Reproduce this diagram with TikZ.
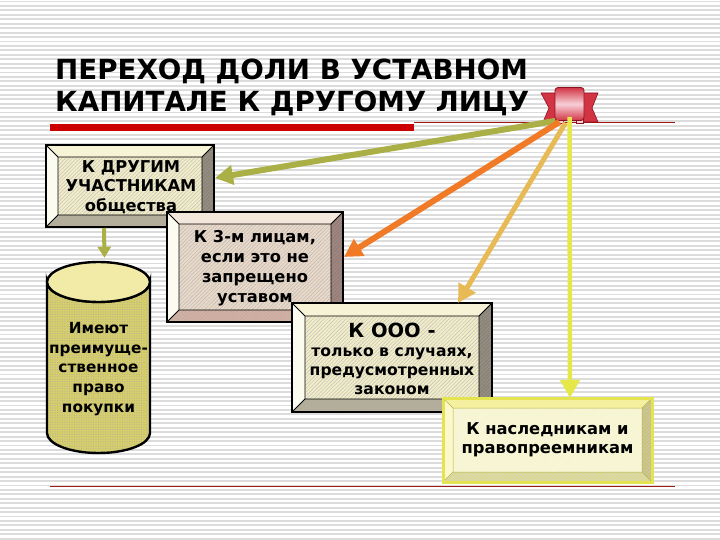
\documentclass[tikz,border=0pt]{standalone}
\usepackage{fontspec}
\setmainfont{DejaVu Sans}
\usetikzlibrary{arrows.meta,calc,patterns.meta}
\definecolor{stripegray}{HTML}{DCDCDC}
\definecolor{olivearrow}{HTML}{AAB046}
\definecolor{orangearrow}{HTML}{F07A26}
\definecolor{goldarrow}{HTML}{E8BA55}
\definecolor{yellowarrow}{HTML}{E6E84A}
\definecolor{titlered}{HTML}{CC0000}
\definecolor{linered}{HTML}{A01818}
\definecolor{ribred}{HTML}{D23444}
\definecolor{ribdark}{HTML}{8C1020}
\definecolor{ribpink}{HTML}{F8D0D8}
\definecolor{creamface}{HTML}{F2EDC6}
\definecolor{creamtop}{HTML}{F7F3D6}
\definecolor{creamleft}{HTML}{FCFBF0}
\definecolor{grayright}{HTML}{8C8474}
\definecolor{graybottom}{HTML}{B4AC94}
\definecolor{pinkface}{HTML}{EBD9C8}
\definecolor{pinktop}{HTML}{F3E6DA}
\definecolor{pinkright}{HTML}{9A7C74}
\definecolor{pinkbottom}{HTML}{D2AA9A}
\definecolor{yface}{HTML}{F8F6DC}
\definecolor{ytop}{HTML}{F4F0A0}
\definecolor{yleft}{HTML}{FAF8CC}
\definecolor{yright}{HTML}{C8C27A}
\definecolor{ybottom}{HTML}{DCD88E}
\definecolor{yborder}{HTML}{E4E450}
\definecolor{cylbody}{HTML}{D6CE6C}
\definecolor{cyltop}{HTML}{F2EBA8}
\tikzset{
  stripe/.style={draw=stripegray, line width=1.9pt},
  boxtext/.style={align=center, font=\fontsize{16.3}{19.5}\selectfont\bfseries, inner sep=0pt},
  titletext/.style={anchor=base west, inner sep=0pt, font=\fontsize{27.7}{32}\selectfont\bfseries},
  bigarrow/.style={line width=6pt, -{Triangle[length=18pt,width=19pt]}},
  smallarrow/.style={line width=4pt, -{Triangle[length=11pt,width=13pt]}},
  hatch/.style={pattern={Lines[angle=45,distance=2.6pt,line width=0.45pt]}, pattern color=#1},
  rib/.style={minimum width=29pt, minimum height=33pt, inner sep=0pt, rounded corners=3pt,
    draw=ribdark, line width=0.8pt, top color=ribred, bottom color=ribred, middle color=ribpink},
}
\newcommand{\bevelbox}[5]{%
  \node[minimum width=#3pt, minimum height=#4pt, inner sep=0pt, outer sep=0pt] (#1) at (#2) {};
  \coordinate (o1) at (#1.north west);
  \coordinate (o2) at (#1.north east);
  \coordinate (o3) at (#1.south east);
  \coordinate (o4) at (#1.south west);
  \coordinate (i1) at ($(o1)+(#5,#5)$);
  \coordinate (i2) at ($(o2)+(-#5,#5)$);
  \coordinate (i3) at ($(o3)+(-#5,-#5)$);
  \coordinate (i4) at ($(o4)+(#5,-#5)$);
  \fill[bvface] (o1) rectangle (o3);
  \fill[bvhatch] (o1) rectangle (o3);
  \fill[bvleft] (o1) -- (i1) -- (i4) -- (o4) -- cycle;
  \fill[bvtop] (o1) -- (o2) -- (i2) -- (i1) -- cycle;
  \fill[bvright] (o2) -- (o3) -- (i3) -- (i2) -- cycle;
  \fill[bvbottom] (o4) -- (i4) -- (i3) -- (o3) -- cycle;
  \draw[bvthin] (i1) rectangle (i3) (o1) -- (i1) (o2) -- (i2) (o3) -- (i3) (o4) -- (i4);
  \draw[bvouter] (o1) rectangle (o3);
}
\begin{document}
\begin{tikzpicture}[x=1pt,y=-1pt]
\useasboundingbox (0,0) rectangle (720,540);
\fill[white] (0,0) rectangle (720,540);
\foreach \k in {0,...,121} { \draw[stripe] (0,{1.5+\k*4.44}) -- (720,{1.5+\k*4.44}); }

% title
\node[titletext] (t1) at (55,80) {ПЕРЕХОД ДОЛИ В УСТАВНОМ};
\node[titletext] (t2) at (55,112) {КАПИТАЛЕ К ДРУГОМУ ЛИЦУ};
\fill[titlered] (50,124) rectangle (414,131);
\draw[linered, line width=1pt] (414,123) -- (675,123);
\draw[linered, line width=1pt] (50,486) -- (675,486);

% ribbon
\fill[ribred, draw=ribdark, line width=0.6pt] (541,93) -- (557,93) -- (557,122) -- (543,122) -- (549,108) -- cycle;
\fill[ribred, draw=ribdark, line width=0.6pt] (582,93) -- (598,93) -- (592,108) -- (598,122) -- (582,122) -- cycle;
\fill[ribpink, draw=ribdark, line width=0.5pt] (556,116) rectangle (563,123);
\fill[ribpink, draw=ribdark, line width=0.5pt] (576,116) rectangle (583,123);
\node[rib] (rib) at (569.5,104) {};

% box 1
\tikzset{bvface/.style={fill=creamface}, bvhatch/.style={hatch=gray!50},
  bvleft/.style={fill=creamleft}, bvtop/.style={fill=creamtop},
  bvright/.style={fill=grayright, postaction={hatch=black!40}},
  bvbottom/.style={fill=graybottom, postaction={hatch=black!30}},
  bvthin/.style={draw=black, line width=0.8pt}, bvouter/.style={draw=black, line width=2.6pt}}
\bevelbox{b1}{130,186}{168}{82}{12}
\node[boxtext] (b1t) at (131,187) {К ДРУГИМ\\УЧАСТНИКАМ\\общества};

% cylinder
\node[minimum width=103pt, minimum height=191pt, inner sep=0pt] (cyl) at (98.5,357.5) {};
\filldraw[fill=cylbody, draw=black, line width=2.4pt] (47,282) -- (47,433)
  arc[start angle=180, end angle=0, x radius=51.5, y radius=20] -- (150,282)
  arc[start angle=0, end angle=180, x radius=51.5, y radius=20] -- cycle;
\fill[pattern={Dots[distance=2.4pt, radius=0.45pt]}, pattern color=black!35] (48,282) -- (48,433)
  arc[start angle=180, end angle=0, x radius=50.5, y radius=19] -- (149,282) -- cycle;
\filldraw[fill=cyltop, draw=black, line width=2.4pt] (98.5,282) ellipse [x radius=51.5, y radius=20];
\node[boxtext, font=\fontsize{15.3}{19.6}\selectfont\bfseries] (cylt) at (98.5,369) {Имеют\\преимуще-\\ственное\\право\\покупки};
\draw[smallarrow, olivearrow] ($(b1.south)+(-26,1)$) -- ($(cyl.north)+(6,-4)$);

% box 2
\tikzset{bvface/.style={fill=pinkface}, bvhatch/.style={hatch=black!28},
  bvleft/.style={fill=creamleft}, bvtop/.style={fill=pinktop},
  bvright/.style={fill=pinkright, postaction={hatch=black!40}},
  bvbottom/.style={fill=pinkbottom, postaction={hatch=black!25}}}
\bevelbox{b2}{255,267}{176}{110}{12}
\node[boxtext, font=\fontsize{16.3}{20}\selectfont\bfseries] (b2t) at (255,268) {К 3-м лицам,\\если это не\\запрещено\\уставом};

% box 3
\tikzset{bvface/.style={fill=creamface}, bvhatch/.style={hatch=gray!50},
  bvleft/.style={fill=creamleft}, bvtop/.style={fill=creamtop},
  bvright/.style={fill=grayright, postaction={hatch=black!40}},
  bvbottom/.style={fill=graybottom, postaction={hatch=black!30}}}
\bevelbox{b3}{392,357.5}{200}{109}{13}
\node[boxtext, font=\fontsize{15.6}{19}\selectfont\bfseries] (b3t) at (392,359) {{\fontsize{19.5}{22}\selectfont К ООО -}\\только в случаях,\\предусмотренных\\законом};

% box 4
\tikzset{bvface/.style={fill=yface}, bvhatch/.style={hatch=yborder!40},
  bvleft/.style={fill=yleft}, bvtop/.style={fill=ytop},
  bvright/.style={fill=yright, postaction={hatch=black!20}},
  bvbottom/.style={fill=ybottom, postaction={hatch=black!15}},
  bvthin/.style={draw=yborder!80!black, line width=0.5pt}, bvouter/.style={draw=yborder, line width=3pt}}
\bevelbox{b4}{547.5,440}{209}{84}{10}
\node[boxtext] (b4t) at (547.5,440) {К наследникам и\\правопреемникам};

% arrows from ribbon
\draw[bigarrow, olivearrow] ($(rib.south)+(-14,0)$) -- ($(b1.east)+(1,-8)$);
\draw[bigarrow, orangearrow] ($(rib.south)+(-10,1)$) -- ($(b2.east)+(1,-10)$);
\draw[bigarrow, goldarrow, line width=5pt] ($(rib.south)+(-4,2)$) -- ($(b3.north)+(66,0)$);
\draw[bigarrow, yellowarrow, line width=4.5pt] ($(rib.south)+(0,-4)$) -- ($(b4.north)+(22.5,0)$);
\end{tikzpicture}
\end{document}
